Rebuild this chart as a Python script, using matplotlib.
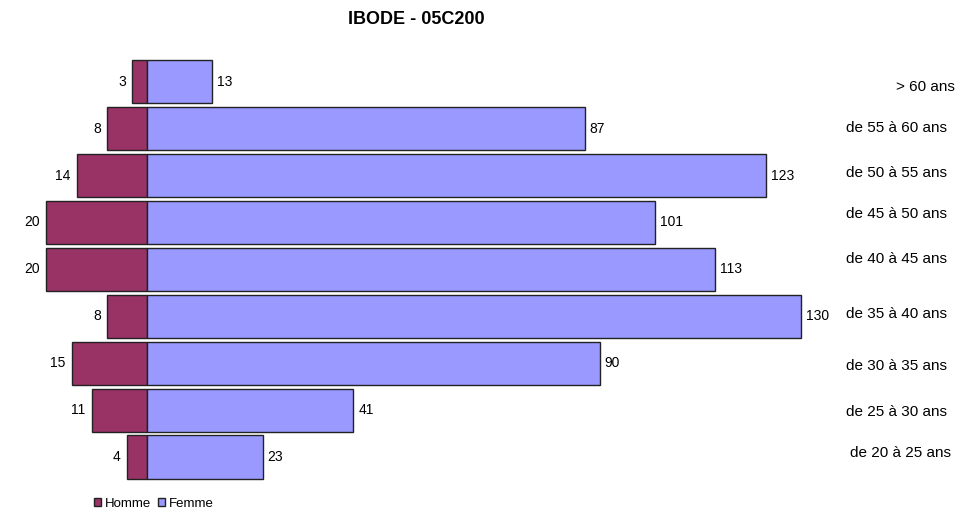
import numpy as np
import matplotlib.pyplot as plt
from matplotlib.patches import Patch

plt.rcParams['font.family'] = ['Liberation Sans', 'DejaVu Sans']

# tranches d'age, du bas vers le haut
ages = ['de 20 à 25 ans', 'de 25 à 30 ans', 'de 30 à 35 ans', 'de 35 à 40 ans',
        'de 40 à 45 ans', 'de 45 à 50 ans', 'de 50 à 55 ans', 'de 55 à 60 ans', '> 60 ans']
homme = [4, 11, 15, 8, 20, 20, 14, 8, 3]
femme = [23, 41, 90, 130, 113, 101, 123, 87, 13]

# position des libelles d'age (pixels depuis le haut, centre x)
label_y = [453, 412, 366, 314, 259, 214, 173, 128, 87]
label_x = [901, 897, 897, 897, 897, 897, 896, 896, 925]

c_h = '#993366'
c_f = '#9999FF'

W, H = 968, 516
fig = plt.figure(figsize=(W / 100, H / 100), dpi=100)
ax = fig.add_axes([0, 0, 1, 1])

y = np.arange(len(ages))
ax.barh(y, [-v for v in homme], height=0.92, color=c_h, edgecolor='#222222', linewidth=1)
ax.barh(y, femme, height=0.92, color=c_f, edgecolor='#222222', linewidth=1)

for i in range(len(ages)):
    ax.text(-homme[i] - 1.2, y[i], str(homme[i]), ha='right', va='center', fontsize=10)
    ax.text(femme[i] + 1.0, y[i], str(femme[i]), ha='left', va='center', fontsize=10)
    fig.text(label_x[i] / W, 1 - label_y[i] / H, ages[i], ha='center', va='center', fontsize=11)

px = 5.03
ax.set_xlim(-147 / px, (W - 147) / px)
ax.set_ylim(-59 / 46.9, (H - 59) / 46.9)
ax.axis('off')

fig.text(416 / W, 1 - 19 / H, 'IBODE - 05C200', ha='center', va='center',
         fontsize=13, fontweight='bold')

# legende
handles = [Patch(facecolor=c_h, edgecolor='#222222', label='Homme'),
           Patch(facecolor=c_f, edgecolor='#222222', label='Femme')]
fig.legend(handles=handles, loc='center left', bbox_to_anchor=(87 / W, 1 - 504 / H),
           ncol=2, frameon=False, fontsize=9.5, handlelength=0.55, handleheight=0.55,
           handletextpad=0.3, columnspacing=0.5, borderpad=0)

fig.savefig('out.png', dpi=100)
